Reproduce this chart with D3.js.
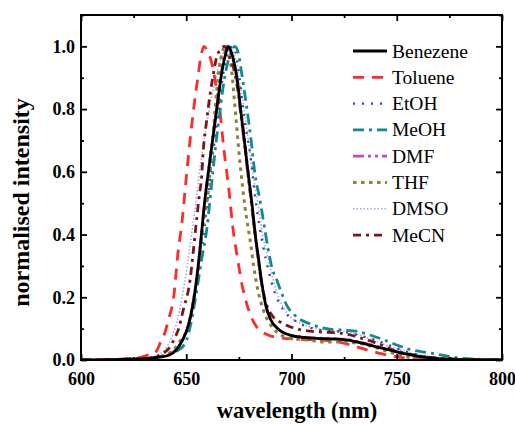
<!DOCTYPE html>
<html>
<head>
<meta charset="utf-8">
<script src="https://cdn.jsdelivr.net/npm/d3@7"></script>
<style>
  html, body { margin: 0; padding: 0; background: #fff; }
  svg { display: block; }
</style>
</head>
<body>
<svg id="chart" width="515" height="425"></svg>
<script>
// ---------- data ----------
const seriesNames = ["Benezene", "Toluene", "EtOH", "MeOH", "DMF", "THF", "DMSO", "MeCN"];

const xTicks = [600, 650, 700, 750, 800];
const xMinorTicks = [625, 675, 725, 775];
const yTicks = [0.0, 0.2, 0.4, 0.6, 0.8, 1.0];
const yMinorTicks = [0.1, 0.3, 0.5, 0.7, 0.9, 1.1];

const benezene = [[600,0],[620,0.002],[630,0.004],[636,0.008],[642,0.016],[645,0.03],[648,0.06],[651,0.11],[653.5,0.19],[655.7,0.3],[657.5,0.42],[659,0.52],[660.5,0.6],[662.5,0.7],[664.5,0.8],[666.5,0.9],[668.5,0.97],[670,1.0],[671.5,0.98],[673,0.94],[674.5,0.88],[675.8,0.8],[677.6,0.7],[679.5,0.59],[681.2,0.5],[682.8,0.4],[684.2,0.33],[685.8,0.25],[687.6,0.18],[690,0.13],[693.5,0.1],[700,0.078],[706,0.072],[712,0.069],[720,0.067],[726,0.064],[732,0.056],[738,0.046],[744,0.036],[750,0.026],[756,0.017],[762,0.01],[770,0.004],[780,0.001],[800,0]];

const toluene = [[600,0],[615,0.002],[625,0.005],[630,0.012],[632,0.016],[634,0.017],[636,0.03],[638,0.06],[640,0.09],[641.5,0.127],[644,0.2],[646.2,0.35],[648,0.44],[649.7,0.56],[651.8,0.7],[653.5,0.8],[655.7,0.91],[657,0.97],[658.5,1.0],[660,0.985],[662,0.95],[664,0.88],[665.7,0.81],[667.9,0.67],[670.3,0.54],[672,0.43],[674.7,0.31],[676.5,0.24],[678.7,0.18],[681,0.135],[683,0.11],[686,0.09],[690,0.077],[695,0.07],[704,0.066],[715,0.063],[722,0.058],[728,0.048],[734,0.036],[742,0.021],[748,0.012],[755,0.006],[765,0.002],[780,0],[800,0]];

const etoh = [[600,0],[620,0.002],[632,0.005],[638,0.01],[643,0.025],[647,0.05],[650,0.09],[652,0.14],[653.8,0.2],[656,0.3],[658.3,0.4],[660,0.5],[661.6,0.6],[663.5,0.7],[665.3,0.8],[667.3,0.9],[669.5,0.97],[672,1.0],[673.8,0.97],[675.3,0.9],[677,0.8],[678.5,0.73],[680.3,0.66],[682.7,0.52],[684.7,0.43],[686.6,0.36],[689,0.287],[692.2,0.212],[696.1,0.16],[702.4,0.122],[708,0.105],[713.5,0.096],[719,0.092],[724.6,0.09],[731,0.08],[737.3,0.069],[743,0.056],[748.4,0.042],[755,0.026],[762,0.014],[770,0.006],[780,0.002],[800,0]];

const meoh = [[600,0],[620,0.002],[630,0.004],[636,0.008],[639,0.014],[643,0.022],[647,0.035],[650.2,0.064],[652,0.11],[654.2,0.19],[657.3,0.32],[659.7,0.414],[662.5,0.59],[664.1,0.69],[665.7,0.775],[667.3,0.86],[669.2,0.934],[671,0.975],[673,1.0],[674.7,0.98],[676.3,0.915],[678.7,0.807],[681,0.69],[682.5,0.6],[685,0.51],[687,0.43],[689,0.35],[690.5,0.3],[693,0.255],[695.5,0.21],[697.7,0.175],[702,0.14],[708,0.117],[714,0.104],[720,0.097],[726,0.095],[732,0.09],[738,0.078],[744,0.064],[750,0.048],[756,0.034],[762,0.026],[768,0.02],[774,0.012],[780,0.006],[790,0.002],[800,0]];

const dmf = [[600,0],[620,0.002],[630,0.004],[636,0.008],[642,0.018],[645,0.032],[648,0.062],[651,0.11],[653.5,0.19],[655.7,0.3],[657.5,0.42],[659,0.52],[660.5,0.6],[662.4,0.7],[664.3,0.8],[666.3,0.9],[668,0.97],[669.5,1.0],[671,0.985],[672.8,0.94],[674.3,0.88],[675.6,0.8],[677.4,0.7],[679.3,0.59],[681,0.5],[682.6,0.4],[684,0.33],[685.6,0.25],[687.5,0.18],[690,0.13],[693.5,0.1],[699,0.08],[706,0.073],[712,0.07],[720,0.068],[726,0.066],[732,0.058],[738,0.048],[744,0.037],[750,0.027],[756,0.018],[762,0.011],[770,0.005],[780,0.001],[800,0]];

const thf = [[600,0],[620,0.002],[630,0.004],[636,0.008],[640,0.015],[643.9,0.032],[647,0.06],[650.2,0.096],[652.3,0.15],[654.2,0.223],[656.5,0.35],[658.5,0.45],[660.5,0.54],[661.8,0.637],[663.2,0.754],[664.5,0.86],[666,0.945],[667.5,0.99],[668.5,1.0],[670,0.975],[671.6,0.92],[672.7,0.84],[673.5,0.78],[675.5,0.63],[677.9,0.488],[680.6,0.37],[682,0.3],[683.8,0.23],[686.6,0.16],[691.4,0.1],[695,0.08],[699.3,0.069],[707.2,0.064],[716.7,0.057],[726.2,0.057],[731,0.054],[735.7,0.048],[743.6,0.032],[750,0.018],[756,0.008],[765,0.003],[780,0],[800,0]];

const dmso = [[600,0],[620,0.002],[630,0.006],[636,0.015],[640,0.035],[643,0.07],[645.5,0.12],[648,0.2],[650.5,0.3],[652.5,0.4],[654.5,0.5],[656.3,0.6],[658.5,0.7],[661,0.8],[664,0.9],[667,0.97],[670.5,1.0],[673,0.97],[675.5,0.88],[677.5,0.8],[679.5,0.7],[681.5,0.6],[684,0.5],[686.3,0.4],[689,0.32],[691.5,0.25],[694.5,0.19],[699,0.14],[705,0.115],[712,0.1],[720,0.093],[726,0.09],[732,0.08],[738,0.066],[744,0.05],[750,0.036],[757,0.022],[765,0.012],[775,0.005],[790,0.001],[800,0]];

const mecn = [[600,0],[620,0.002],[630,0.005],[635,0.01],[637.5,0.016],[640,0.026],[642.3,0.042],[644.5,0.07],[646.2,0.096],[648.6,0.16],[651.8,0.255],[653.4,0.35],[654.8,0.44],[656.2,0.525],[657.3,0.584],[658.1,0.67],[659.4,0.748],[660.5,0.807],[661.6,0.86],[662.9,0.913],[664.6,0.97],[666.5,0.99],[668,1.0],[669.5,0.99],[671,0.96],[672.5,0.93],[674,0.88],[676.3,0.775],[678,0.68],[679.5,0.59],[681.1,0.49],[683.5,0.36],[685,0.28],[686.5,0.22],[688.5,0.17],[691,0.14],[695,0.12],[699.3,0.106],[704,0.097],[708.8,0.092],[718.3,0.088],[723,0.086],[727.8,0.08],[733,0.07],[738.8,0.058],[744,0.044],[748.4,0.032],[753,0.023],[758,0.016],[765,0.009],[775,0.004],[790,0.001],[800,0]];

const seriesData = [benezene, toluene, etoh, meoh, dmf, thf, dmso, mecn];

// ---------- styles ----------
const FONT = "'Liberation Serif', Tinos, 'Times New Roman', 'DejaVu Serif', serif";
const styles = [
  { color: "#000000", width: 2.8, dash: null },
  { color: "#ff2a2a", width: 2.8, dash: "11,8" },
  { color: "#2f3fbf", width: 2.3, dash: "2,7" },
  { color: "#138a8a", width: 2.8, dash: "11,5,3,5" },
  { color: "#c24cb4", width: 2.8, dash: "11,4,3,4,3,4" },
  { color: "#858535", width: 3.0, dash: "3.5,4.5" },
  { color: "#a8a8e0", width: 1.6, dash: "1.5,2" },
  { color: "#7d1515", width: 2.8, dash: "8,5,3,5" }
];

// ---------- layout ----------
const L = 81, R = 502, T = 15, B = 360;
const svg = d3.select("#chart");

const x = d3.scaleLinear().domain([600, 800]).range([L, R]);
const y = d3.scaleLinear().domain([0, 1.1]).range([B, T]);

svg.append("defs").append("clipPath").attr("id", "plotclip")
  .append("rect").attr("x", L).attr("y", T).attr("width", R - L).attr("height", B - T);

const line = d3.line().x(d => x(d[0])).y(d => y(d[1])).curve(d3.curveMonotoneX);

const order = [6, 1, 2, 3, 5, 7, 4, 0];
const g = svg.append("g").attr("clip-path", "url(#plotclip)");
order.forEach(i => {
  g.append("path")
    .datum(seriesData[i])
    .attr("d", line)
    .attr("fill", "none")
    .attr("stroke", styles[i].color)
    .attr("stroke-width", styles[i].width)
    .attr("stroke-dasharray", styles[i].dash)
    .attr("stroke-linejoin", "round");
});

// ---------- axes ----------
function styleAxis(sel) {
  sel.attr("font-family", FONT);
  sel.select(".domain").remove();
  sel.selectAll(".tick line").attr("stroke", "#000").attr("stroke-width", 1.8);
  sel.selectAll(".tick text")
    .attr("fill", "#000")
    .attr("font-family", FONT)
    .attr("font-weight", "bold")
    .attr("font-size", "18px");
}

svg.append("g").attr("transform", `translate(0,${B})`)
  .call(d3.axisBottom(x).tickValues(xTicks).tickSize(-6).tickPadding(12).tickFormat(d3.format("d")))
  .call(styleAxis);
svg.append("g").attr("transform", `translate(0,${B})`)
  .call(d3.axisBottom(x).tickValues(xMinorTicks).tickSize(-3).tickFormat(""))
  .call(styleAxis);
svg.append("g").attr("transform", `translate(0,${T})`)
  .call(d3.axisTop(x).tickValues(xTicks).tickSize(-6).tickFormat(""))
  .call(styleAxis);
svg.append("g").attr("transform", `translate(0,${T})`)
  .call(d3.axisTop(x).tickValues(xMinorTicks).tickSize(-3).tickFormat(""))
  .call(styleAxis);

svg.append("g").attr("transform", `translate(${L},0)`)
  .call(d3.axisLeft(y).tickValues(yTicks).tickSize(-6).tickPadding(6).tickFormat(d3.format(".1f")))
  .call(styleAxis);
svg.append("g").attr("transform", `translate(${L},0)`)
  .call(d3.axisLeft(y).tickValues(yMinorTicks).tickSize(-3).tickFormat(""))
  .call(styleAxis);
svg.append("g").attr("transform", `translate(${R},0)`)
  .call(d3.axisRight(y).tickValues(yTicks).tickSize(-6).tickFormat(""))
  .call(styleAxis);
svg.append("g").attr("transform", `translate(${R},0)`)
  .call(d3.axisRight(y).tickValues(yMinorTicks).tickSize(-3).tickFormat(""))
  .call(styleAxis);

svg.append("rect").attr("x", L).attr("y", T).attr("width", R - L).attr("height", B - T)
  .attr("fill", "none").attr("stroke", "#000").attr("stroke-width", 2);

// axis titles
svg.append("text")
  .attr("x", 297).attr("y", 418)
  .attr("text-anchor", "middle")
  .attr("font-family", FONT)
  .attr("font-weight", "bold").attr("font-size", "22.5px")
  .text("wavelength (nm)");

svg.append("text")
  .attr("transform", `translate(29,${(T + B) / 2 + 15}) rotate(-90)`)
  .attr("text-anchor", "middle")
  .attr("font-family", FONT)
  .attr("font-weight", "bold").attr("font-size", "24px")
  .text("normalised intensity");

// ---------- legend ----------
const legend = svg.append("g");
seriesNames.forEach((name, i) => {
  const ly = 51 + i * 26.3;
  legend.append("line")
    .attr("x1", 353).attr("x2", 387).attr("y1", ly).attr("y2", ly)
    .attr("stroke", styles[i].color)
    .attr("stroke-width", styles[i].width)
    .attr("stroke-dasharray", styles[i].dash);
  legend.append("text")
    .attr("x", 392).attr("y", ly + 6.5)
    .attr("font-family", FONT)
    .attr("font-size", "19.5px")
    .attr("fill", "#000")
    .text(name);
});
</script>
</body>
</html>
